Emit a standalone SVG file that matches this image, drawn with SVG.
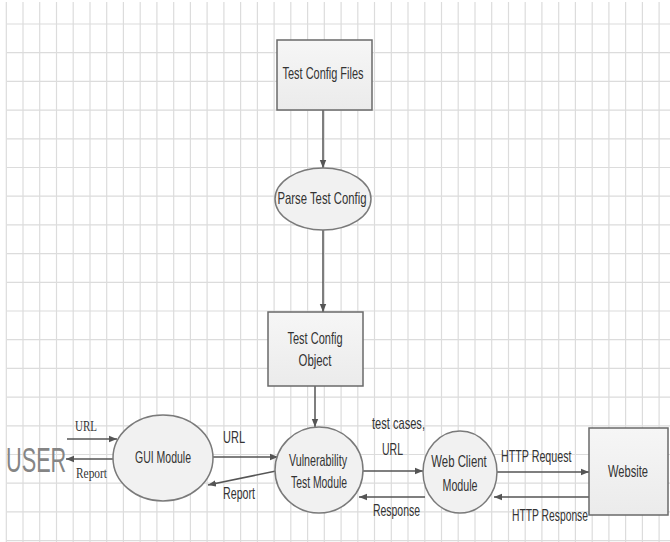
<svg xmlns="http://www.w3.org/2000/svg" width="670" height="542" viewBox="0 0 670 542">
<defs>
<style>
.grid{stroke:#dcdcdc;stroke-width:1.2;fill:none}
.box{fill:url(#bg);stroke:#6a6a6a;stroke-width:1.5}
.ell{fill:#f1f1f1;stroke:#7a7a7a;stroke-width:1.5}
.lbl{font-family:"Liberation Sans",Arial,sans-serif;font-size:17px;fill:#333}
.ser{font-family:"Liberation Serif","Times New Roman",serif;font-size:15px;fill:#333}
.mid{text-anchor:middle}
.con{stroke:#555;stroke-width:1.5;fill:none;marker-end:url(#ah)}
</style>
<linearGradient id="bg" x1="0" y1="0" x2="0" y2="1">
<stop offset="0" stop-color="#f6f6f6"/>
<stop offset="1" stop-color="#ebebeb"/>
</linearGradient>
<marker id="ah" viewBox="0 0 10 10" refX="10" refY="5" markerWidth="8" markerHeight="8" markerUnits="userSpaceOnUse" orient="auto">
<path d="M0,1 L10,5 L0,9 z" fill="#555"/>
</marker>
</defs>
<rect width="670" height="542" fill="#ffffff"/>
<g id="grid">
<path class="grid" d="M6.3 2V542M23 2V542M39.7 2V542M56.5 2V542M73.2 2V542M90 2V542M106.7 2V542M123.4 2V542M140.2 2V542M156.9 2V542M173.7 2V542M190.4 2V542M207.1 2V542M223.9 2V542M240.6 2V542M257.4 2V542M274.1 2V542M290.8 2V542M307.6 2V542M324.3 2V542M341.1 2V542M357.8 2V542M374.5 2V542M391.3 2V542M408 2V542M424.8 2V542M441.5 2V542M458.2 2V542M475 2V542M491.7 2V542M508.5 2V542M525.2 2V542M541.9 2V542M558.7 2V542M575.4 2V542M592.2 2V542M608.9 2V542M625.6 2V542M642.4 2V542M659.1 2V542"/>
<path class="grid" d="M7 24H670M7 52.7H670M7 81.4H670M7 110.1H670M7 138.8H670M7 167.5H670M7 196.2H670M7 224.9H670M7 253.6H670M7 282.3H670M7 311H670M7 339.7H670M7 368.4H670M7 397.1H670M7 425.8H670M7 454.5H670M7 483.2H670M7 511.9H670M7 540.6H670"/>
</g>
<g id="connectors">
<line class="con" x1="323" y1="110" x2="323" y2="168"/>
<line class="con" x1="323" y1="230" x2="323" y2="312"/>
<line class="con" x1="315" y1="386" x2="315" y2="427"/>
<line class="con" x1="67" y1="439" x2="117" y2="439"/>
<line class="con" x1="113" y1="459" x2="66" y2="459"/>
<line class="con" x1="213" y1="457" x2="278" y2="457"/>
<line class="con" x1="276" y1="471" x2="208" y2="485"/>
<line class="con" x1="363" y1="471" x2="423" y2="471"/>
<line class="con" x1="425" y1="497" x2="359" y2="497"/>
<line class="con" x1="497" y1="472" x2="589" y2="472"/>
<line class="con" x1="593" y1="497" x2="494" y2="497"/>
<text class="ser" x="75" y="431" textLength="22" lengthAdjust="spacingAndGlyphs">URL</text>
<text class="ser" x="76" y="478" textLength="31" lengthAdjust="spacingAndGlyphs">Report</text>
<text class="lbl" x="223" y="443" textLength="22" lengthAdjust="spacingAndGlyphs">URL</text>
<text class="lbl" x="223" y="499" textLength="32" lengthAdjust="spacingAndGlyphs">Report</text>
<text class="lbl" x="372" y="429" textLength="53" lengthAdjust="spacingAndGlyphs">test cases,</text>
<text class="lbl" x="382" y="455" textLength="21" lengthAdjust="spacingAndGlyphs">URL</text>
<text class="lbl" x="373" y="516" textLength="47" lengthAdjust="spacingAndGlyphs">Response</text>
<text class="lbl" transform="translate(501,462) scale(0.63,1)" x="0" y="0">HTTP Request</text>
<text class="lbl" x="512" y="521" textLength="76" lengthAdjust="spacingAndGlyphs">HTTP Response</text>
</g>
<g id="user">
<text transform="translate(6,472) scale(0.62,1)" x="0" y="0" style="font-family:'Liberation Sans',Arial,sans-serif;font-size:35px;fill:#858585">USER</text>
</g>
<g id="test-config-files">
<rect class="box" x="277" y="40" width="95" height="70"/>
<text class="lbl mid" x="323" y="79" textLength="81" lengthAdjust="spacingAndGlyphs">Test Config Files</text>
</g>
<g id="parse-test-config">
<ellipse class="ell" cx="323" cy="199" rx="48" ry="31"/>
<text class="lbl mid" x="322" y="204" textLength="89" lengthAdjust="spacingAndGlyphs">Parse Test Config</text>
</g>
<g id="test-config-object">
<rect class="box" x="268" y="312" width="95" height="74"/>
<text class="lbl mid" x="315" y="344" textLength="55" lengthAdjust="spacingAndGlyphs">Test Config</text>
<text class="lbl mid" x="315" y="366" textLength="33" lengthAdjust="spacingAndGlyphs">Object</text>
</g>
<g id="gui-module">
<ellipse class="ell" cx="163" cy="458" rx="50" ry="43"/>
<text class="lbl mid" x="163" y="463" textLength="56" lengthAdjust="spacingAndGlyphs">GUI Module</text>
</g>
<g id="vulnerability-test-module">
<ellipse class="ell" cx="319" cy="470" rx="44" ry="43"/>
<text class="lbl mid" x="318" y="466" textLength="58" lengthAdjust="spacingAndGlyphs">Vulnerability</text>
<text class="lbl mid" x="319" y="488" textLength="56" lengthAdjust="spacingAndGlyphs">Test Module</text>
</g>
<g id="web-client-module">
<ellipse class="ell" cx="460" cy="472" rx="37" ry="41"/>
<text class="lbl mid" transform="translate(459,467) scale(0.67,1)" x="0" y="0">Web Client</text>
<text class="lbl mid" x="460" y="491" textLength="35" lengthAdjust="spacingAndGlyphs">Module</text>
</g>
<g id="website">
<rect class="box" x="589" y="428" width="79" height="87"/>
<text class="lbl mid" x="628" y="477" textLength="40" lengthAdjust="spacingAndGlyphs">Website</text>
</g>
</svg>
